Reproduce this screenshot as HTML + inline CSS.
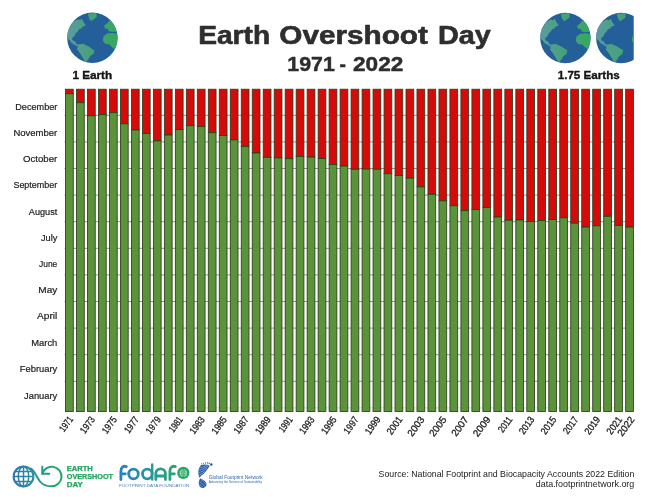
<!DOCTYPE html>
<html lang="en"><head><meta charset="utf-8"><title>Earth Overshoot Day 1971 - 2022</title>
<style>
html,body{margin:0;padding:0;background:#fff;}
body{width:650px;height:501px;overflow:hidden;font-family:"Liberation Sans",sans-serif;}
svg{display:block;font-family:"Liberation Sans",sans-serif;}
.m{font-size:9.6px;fill:#222;stroke:#222;stroke-width:0.2px;}
.y{font-size:9.9px;fill:#222;stroke:#222;stroke-width:0.3px;}
.t{font-weight:bold;fill:#2e2e2e;stroke:#2e2e2e;stroke-width:0.6px;stroke-linejoin:round;}
</style></head><body>
<svg width="650" height="501" viewBox="0 0 650 501">
<defs>
<linearGradient id="land" gradientUnits="userSpaceOnUse" x1="-25" y1="0" x2="25" y2="0"><stop offset="0" stop-color="#5b9ba0"/><stop offset="0.55" stop-color="#43a273"/><stop offset="1" stop-color="#36a85f"/></linearGradient>
<linearGradient id="eod" gradientUnits="userSpaceOnUse" x1="13" y1="0" x2="62" y2="0"><stop offset="0" stop-color="#2f74ad"/><stop offset="0.45" stop-color="#2a929a"/><stop offset="1" stop-color="#1fa85e"/></linearGradient>
<linearGradient id="fod" gradientUnits="userSpaceOnUse" x1="119" y1="0" x2="189" y2="0"><stop offset="0" stop-color="#2b7cc4"/><stop offset="0.5" stop-color="#2a9a98"/><stop offset="1" stop-color="#27a85c"/></linearGradient>
<clipPath id="gc"><circle cx="0" cy="0" r="25.2"/></clipPath>
<g id="globe">
<circle cx="0" cy="0" r="25.2" fill="#255f99"/>
<g clip-path="url(#gc)" fill="url(#land)">
<path d="M-4.5,-24 L4,-25 L4.5,-21 L1.5,-18.5 L-1.5,-16.8 L-3.3,-19.5 Z"/>
<path d="M-19,-16 L-15,-18.4 L-12,-17.8 L-10.8,-19.4 L-9,-16 L-6.6,-12.4 L-9.5,-11.4 L-11,-9.4 L-13.2,-8.8 L-14.6,-6.4 L-16.8,-4.6 L-17.6,-2 L-19.6,-0.6 L-20.4,1.6 L-19.2,3 L-17.4,3.4 L-16.4,5.6 L-14.4,7 L-15.4,8.4 L-18.4,6.6 L-21,5 L-23,2 L-26,0 L-26,-9 Z"/>
<path d="M-14.7,6.6 L-9.3,6 L-3.3,9 L2,12.6 L1,16.2 L-2,18 L-4.5,22.2 L-6.9,24.5 L-9.3,20.4 L-12.3,15.6 L-15.3,11.4 Z"/>
<path d="M11,-1.2 L14.6,-4.2 L20,-4.8 L26,-4 L26,11 L22.5,11.5 L20,9.6 L17,6.6 L12.8,6 L10.4,3 Z"/>
<path d="M11.6,-12 L14.6,-14.4 L17.6,-18 L22,-14 L24,-9 L26,-6 L20,-6 L16.4,-6.6 L15.2,-9 L12.8,-9 Z"/>
</g></g>
</defs>
<rect x="0" y="0" width="650" height="501" fill="#fff"/>

<g stroke="#666" stroke-width="0.7">
<line x1="64.5" y1="115.3" x2="634.1" y2="115.3"/>
<line x1="64.5" y1="141.9" x2="634.1" y2="141.9"/>
<line x1="64.5" y1="168.5" x2="634.1" y2="168.5"/>
<line x1="64.5" y1="195.1" x2="634.1" y2="195.1"/>
<line x1="64.5" y1="221.7" x2="634.1" y2="221.7"/>
<line x1="64.5" y1="248.3" x2="634.1" y2="248.3"/>
<line x1="64.5" y1="274.9" x2="634.1" y2="274.9"/>
<line x1="64.5" y1="301.5" x2="634.1" y2="301.5"/>
<line x1="64.5" y1="328.1" x2="634.1" y2="328.1"/>
<line x1="64.5" y1="354.7" x2="634.1" y2="354.7"/>
<line x1="64.5" y1="381.3" x2="634.1" y2="381.3"/>
<line x1="64.5" y1="407.9" x2="634.1" y2="407.9" stroke-opacity="0.4"/>
</g>
<g stroke="#2b3f1c" stroke-width="0.85">
<rect x="65.52" y="89.22" width="7.75" height="4.48" fill="#d60a08"/>
<rect x="65.52" y="93.70" width="7.75" height="317.88" fill="#5a933a"/>
<rect x="76.51" y="89.22" width="7.75" height="13.48" fill="#d60a08"/>
<rect x="76.51" y="102.70" width="7.75" height="308.88" fill="#5a933a"/>
<rect x="87.49" y="89.22" width="7.75" height="26.57" fill="#d60a08"/>
<rect x="87.49" y="115.80" width="7.75" height="295.77" fill="#5a933a"/>
<rect x="98.47" y="89.22" width="7.75" height="25.48" fill="#d60a08"/>
<rect x="98.47" y="114.70" width="7.75" height="296.88" fill="#5a933a"/>
<rect x="109.46" y="89.22" width="7.75" height="23.48" fill="#d60a08"/>
<rect x="109.46" y="112.70" width="7.75" height="298.88" fill="#5a933a"/>
<rect x="120.44" y="89.22" width="7.75" height="34.58" fill="#d60a08"/>
<rect x="120.44" y="123.80" width="7.75" height="287.77" fill="#5a933a"/>
<rect x="131.42" y="89.22" width="7.75" height="40.78" fill="#d60a08"/>
<rect x="131.42" y="130.00" width="7.75" height="281.57" fill="#5a933a"/>
<rect x="142.41" y="89.22" width="7.75" height="44.28" fill="#d60a08"/>
<rect x="142.41" y="133.50" width="7.75" height="278.07" fill="#5a933a"/>
<rect x="153.39" y="89.22" width="7.75" height="51.68" fill="#d60a08"/>
<rect x="153.39" y="140.90" width="7.75" height="270.68" fill="#5a933a"/>
<rect x="164.37" y="89.22" width="7.75" height="45.78" fill="#d60a08"/>
<rect x="164.37" y="135.00" width="7.75" height="276.57" fill="#5a933a"/>
<rect x="175.36" y="89.22" width="7.75" height="40.38" fill="#d60a08"/>
<rect x="175.36" y="129.60" width="7.75" height="281.97" fill="#5a933a"/>
<rect x="186.34" y="89.22" width="7.75" height="36.48" fill="#d60a08"/>
<rect x="186.34" y="125.70" width="7.75" height="285.88" fill="#5a933a"/>
<rect x="197.32" y="89.22" width="7.75" height="37.38" fill="#d60a08"/>
<rect x="197.32" y="126.60" width="7.75" height="284.97" fill="#5a933a"/>
<rect x="208.30" y="89.22" width="7.75" height="43.47" fill="#d60a08"/>
<rect x="208.30" y="132.70" width="7.75" height="278.88" fill="#5a933a"/>
<rect x="219.29" y="89.22" width="7.75" height="46.28" fill="#d60a08"/>
<rect x="219.29" y="135.50" width="7.75" height="276.07" fill="#5a933a"/>
<rect x="230.27" y="89.22" width="7.75" height="50.68" fill="#d60a08"/>
<rect x="230.27" y="139.90" width="7.75" height="271.68" fill="#5a933a"/>
<rect x="241.25" y="89.22" width="7.75" height="57.18" fill="#d60a08"/>
<rect x="241.25" y="146.40" width="7.75" height="265.18" fill="#5a933a"/>
<rect x="252.24" y="89.22" width="7.75" height="63.78" fill="#d60a08"/>
<rect x="252.24" y="153.00" width="7.75" height="258.57" fill="#5a933a"/>
<rect x="263.22" y="89.22" width="7.75" height="68.08" fill="#d60a08"/>
<rect x="263.22" y="157.30" width="7.75" height="254.27" fill="#5a933a"/>
<rect x="274.20" y="89.22" width="7.75" height="68.68" fill="#d60a08"/>
<rect x="274.20" y="157.90" width="7.75" height="253.67" fill="#5a933a"/>
<rect x="285.19" y="89.22" width="7.75" height="69.47" fill="#d60a08"/>
<rect x="285.19" y="158.70" width="7.75" height="252.88" fill="#5a933a"/>
<rect x="296.17" y="89.22" width="7.75" height="67.18" fill="#d60a08"/>
<rect x="296.17" y="156.40" width="7.75" height="255.17" fill="#5a933a"/>
<rect x="307.15" y="89.22" width="7.75" height="67.88" fill="#d60a08"/>
<rect x="307.15" y="157.10" width="7.75" height="254.47" fill="#5a933a"/>
<rect x="318.13" y="89.22" width="7.75" height="69.38" fill="#d60a08"/>
<rect x="318.13" y="158.60" width="7.75" height="252.97" fill="#5a933a"/>
<rect x="329.12" y="89.22" width="7.75" height="75.28" fill="#d60a08"/>
<rect x="329.12" y="164.50" width="7.75" height="247.07" fill="#5a933a"/>
<rect x="340.10" y="89.22" width="7.75" height="76.78" fill="#d60a08"/>
<rect x="340.10" y="166.00" width="7.75" height="245.57" fill="#5a933a"/>
<rect x="351.08" y="89.22" width="7.75" height="80.08" fill="#d60a08"/>
<rect x="351.08" y="169.30" width="7.75" height="242.27" fill="#5a933a"/>
<rect x="362.07" y="89.22" width="7.75" height="79.88" fill="#d60a08"/>
<rect x="362.07" y="169.10" width="7.75" height="242.47" fill="#5a933a"/>
<rect x="373.05" y="89.22" width="7.75" height="80.08" fill="#d60a08"/>
<rect x="373.05" y="169.30" width="7.75" height="242.27" fill="#5a933a"/>
<rect x="384.03" y="89.22" width="7.75" height="84.47" fill="#d60a08"/>
<rect x="384.03" y="173.70" width="7.75" height="237.88" fill="#5a933a"/>
<rect x="395.02" y="89.22" width="7.75" height="86.28" fill="#d60a08"/>
<rect x="395.02" y="175.50" width="7.75" height="236.07" fill="#5a933a"/>
<rect x="406.00" y="89.22" width="7.75" height="88.97" fill="#d60a08"/>
<rect x="406.00" y="178.20" width="7.75" height="233.38" fill="#5a933a"/>
<rect x="416.98" y="89.22" width="7.75" height="97.68" fill="#d60a08"/>
<rect x="416.98" y="186.90" width="7.75" height="224.67" fill="#5a933a"/>
<rect x="427.96" y="89.22" width="7.75" height="105.08" fill="#d60a08"/>
<rect x="427.96" y="194.30" width="7.75" height="217.27" fill="#5a933a"/>
<rect x="438.95" y="89.22" width="7.75" height="111.58" fill="#d60a08"/>
<rect x="438.95" y="200.80" width="7.75" height="210.77" fill="#5a933a"/>
<rect x="449.93" y="89.22" width="7.75" height="116.47" fill="#d60a08"/>
<rect x="449.93" y="205.70" width="7.75" height="205.88" fill="#5a933a"/>
<rect x="460.91" y="89.22" width="7.75" height="121.47" fill="#d60a08"/>
<rect x="460.91" y="210.70" width="7.75" height="200.88" fill="#5a933a"/>
<rect x="471.90" y="89.22" width="7.75" height="120.38" fill="#d60a08"/>
<rect x="471.90" y="209.60" width="7.75" height="201.97" fill="#5a933a"/>
<rect x="482.88" y="89.22" width="7.75" height="118.38" fill="#d60a08"/>
<rect x="482.88" y="207.60" width="7.75" height="203.97" fill="#5a933a"/>
<rect x="493.86" y="89.22" width="7.75" height="127.77" fill="#d60a08"/>
<rect x="493.86" y="217.00" width="7.75" height="194.57" fill="#5a933a"/>
<rect x="504.85" y="89.22" width="7.75" height="130.97" fill="#d60a08"/>
<rect x="504.85" y="220.20" width="7.75" height="191.38" fill="#5a933a"/>
<rect x="515.83" y="89.22" width="7.75" height="130.77" fill="#d60a08"/>
<rect x="515.83" y="220.00" width="7.75" height="191.57" fill="#5a933a"/>
<rect x="526.81" y="89.22" width="7.75" height="132.27" fill="#d60a08"/>
<rect x="526.81" y="221.50" width="7.75" height="190.07" fill="#5a933a"/>
<rect x="537.79" y="89.22" width="7.75" height="131.38" fill="#d60a08"/>
<rect x="537.79" y="220.60" width="7.75" height="190.97" fill="#5a933a"/>
<rect x="548.78" y="89.22" width="7.75" height="130.27" fill="#d60a08"/>
<rect x="548.78" y="219.50" width="7.75" height="192.07" fill="#5a933a"/>
<rect x="559.76" y="89.22" width="7.75" height="128.57" fill="#d60a08"/>
<rect x="559.76" y="217.80" width="7.75" height="193.77" fill="#5a933a"/>
<rect x="570.74" y="89.22" width="7.75" height="133.97" fill="#d60a08"/>
<rect x="570.74" y="223.20" width="7.75" height="188.38" fill="#5a933a"/>
<rect x="581.73" y="89.22" width="7.75" height="137.88" fill="#d60a08"/>
<rect x="581.73" y="227.10" width="7.75" height="184.47" fill="#5a933a"/>
<rect x="592.71" y="89.22" width="7.75" height="136.57" fill="#d60a08"/>
<rect x="592.71" y="225.80" width="7.75" height="185.77" fill="#5a933a"/>
<rect x="603.69" y="89.22" width="7.75" height="127.08" fill="#d60a08"/>
<rect x="603.69" y="216.30" width="7.75" height="195.27" fill="#5a933a"/>
<rect x="614.67" y="89.22" width="7.75" height="136.18" fill="#d60a08"/>
<rect x="614.67" y="225.40" width="7.75" height="186.17" fill="#5a933a"/>
<rect x="625.66" y="89.22" width="7.75" height="137.88" fill="#d60a08"/>
<rect x="625.66" y="227.10" width="7.75" height="184.47" fill="#5a933a"/>
</g>
<text class="m" x="15.3" y="109.8" textLength="42.0" lengthAdjust="spacingAndGlyphs">December</text>
<text class="m" x="13.4" y="136.0" textLength="43.9" lengthAdjust="spacingAndGlyphs">November</text>
<text class="m" x="23.0" y="162.2" textLength="34.3" lengthAdjust="spacingAndGlyphs">October</text>
<text class="m" x="13.4" y="188.4" textLength="43.9" lengthAdjust="spacingAndGlyphs">September</text>
<text class="m" x="28.8" y="214.6" textLength="28.5" lengthAdjust="spacingAndGlyphs">August</text>
<text class="m" x="40.9" y="240.8" textLength="16.4" lengthAdjust="spacingAndGlyphs">July</text>
<text class="m" x="39.0" y="266.9" textLength="18.3" lengthAdjust="spacingAndGlyphs">June</text>
<text class="m" x="38.3" y="293.1" textLength="19.0" lengthAdjust="spacingAndGlyphs">May</text>
<text class="m" x="37.0" y="319.3" textLength="20.3" lengthAdjust="spacingAndGlyphs">April</text>
<text class="m" x="31.3" y="345.8" textLength="26.0" lengthAdjust="spacingAndGlyphs">March</text>
<text class="m" x="19.8" y="371.7" textLength="37.5" lengthAdjust="spacingAndGlyphs">February</text>
<text class="m" x="24.0" y="398.6" textLength="33.3" lengthAdjust="spacingAndGlyphs">January</text>
<text class="y" transform="translate(70.6,417.5) rotate(-54)" text-anchor="end" dy="0.36em" textLength="16.1" lengthAdjust="spacingAndGlyphs">1971</text>
<text class="y" transform="translate(92.6,417.5) rotate(-54)" text-anchor="end" dy="0.36em" textLength="18.1" lengthAdjust="spacingAndGlyphs">1973</text>
<text class="y" transform="translate(114.5,417.5) rotate(-54)" text-anchor="end" dy="0.36em" textLength="18.3" lengthAdjust="spacingAndGlyphs">1975</text>
<text class="y" transform="translate(136.5,417.5) rotate(-54)" text-anchor="end" dy="0.36em" textLength="17.9" lengthAdjust="spacingAndGlyphs">1977</text>
<text class="y" transform="translate(158.5,417.5) rotate(-54)" text-anchor="end" dy="0.36em" textLength="18.6" lengthAdjust="spacingAndGlyphs">1979</text>
<text class="y" transform="translate(180.4,417.5) rotate(-54)" text-anchor="end" dy="0.36em" textLength="16.6" lengthAdjust="spacingAndGlyphs">1981</text>
<text class="y" transform="translate(202.4,417.5) rotate(-54)" text-anchor="end" dy="0.36em" textLength="18.7" lengthAdjust="spacingAndGlyphs">1983</text>
<text class="y" transform="translate(224.4,417.5) rotate(-54)" text-anchor="end" dy="0.36em" textLength="18.9" lengthAdjust="spacingAndGlyphs">1985</text>
<text class="y" transform="translate(246.3,417.5) rotate(-54)" text-anchor="end" dy="0.36em" textLength="18.4" lengthAdjust="spacingAndGlyphs">1987</text>
<text class="y" transform="translate(268.3,417.5) rotate(-54)" text-anchor="end" dy="0.36em" textLength="19.1" lengthAdjust="spacingAndGlyphs">1989</text>
<text class="y" transform="translate(290.3,417.5) rotate(-54)" text-anchor="end" dy="0.36em" textLength="16.7" lengthAdjust="spacingAndGlyphs">1991</text>
<text class="y" transform="translate(312.2,417.5) rotate(-54)" text-anchor="end" dy="0.36em" textLength="18.8" lengthAdjust="spacingAndGlyphs">1993</text>
<text class="y" transform="translate(334.2,417.5) rotate(-54)" text-anchor="end" dy="0.36em" textLength="19.0" lengthAdjust="spacingAndGlyphs">1995</text>
<text class="y" transform="translate(356.2,417.5) rotate(-54)" text-anchor="end" dy="0.36em" textLength="18.6" lengthAdjust="spacingAndGlyphs">1997</text>
<text class="y" transform="translate(378.1,417.5) rotate(-54)" text-anchor="end" dy="0.36em" textLength="19.2" lengthAdjust="spacingAndGlyphs">1999</text>
<text class="y" transform="translate(400.1,417.5) rotate(-54)" text-anchor="end" dy="0.36em" textLength="19.7" lengthAdjust="spacingAndGlyphs">2001</text>
<text class="y" transform="translate(422.1,417.5) rotate(-54)" text-anchor="end" dy="0.36em" textLength="21.7" lengthAdjust="spacingAndGlyphs">2003</text>
<text class="y" transform="translate(444.0,417.5) rotate(-54)" text-anchor="end" dy="0.36em" textLength="21.9" lengthAdjust="spacingAndGlyphs">2005</text>
<text class="y" transform="translate(466.0,417.5) rotate(-54)" text-anchor="end" dy="0.36em" textLength="21.5" lengthAdjust="spacingAndGlyphs">2007</text>
<text class="y" transform="translate(488.0,417.5) rotate(-54)" text-anchor="end" dy="0.36em" textLength="22.2" lengthAdjust="spacingAndGlyphs">2009</text>
<text class="y" transform="translate(509.9,417.5) rotate(-54)" text-anchor="end" dy="0.36em" textLength="17.0" lengthAdjust="spacingAndGlyphs">2011</text>
<text class="y" transform="translate(531.9,417.5) rotate(-54)" text-anchor="end" dy="0.36em" textLength="19.0" lengthAdjust="spacingAndGlyphs">2013</text>
<text class="y" transform="translate(553.9,417.5) rotate(-54)" text-anchor="end" dy="0.36em" textLength="19.2" lengthAdjust="spacingAndGlyphs">2015</text>
<text class="y" transform="translate(575.8,417.5) rotate(-54)" text-anchor="end" dy="0.36em" textLength="18.8" lengthAdjust="spacingAndGlyphs">2017</text>
<text class="y" transform="translate(597.8,417.5) rotate(-54)" text-anchor="end" dy="0.36em" textLength="19.4" lengthAdjust="spacingAndGlyphs">2019</text>
<text class="y" transform="translate(619.8,417.5) rotate(-54)" text-anchor="end" dy="0.36em" textLength="19.3" lengthAdjust="spacingAndGlyphs">2021</text>
<text class="y" transform="translate(632.0,417.5) rotate(-54)" text-anchor="end" dy="0.36em" textLength="21.6" lengthAdjust="spacingAndGlyphs">2022</text>
<text class="t" x="198.2" y="44" font-size="25" style="stroke-width:0.6px" textLength="71.9" lengthAdjust="spacingAndGlyphs">Earth</text>
<text class="t" x="279.3" y="44" font-size="25" style="stroke-width:0.6px" textLength="148.6" lengthAdjust="spacingAndGlyphs">Overshoot</text>
<text class="t" x="438.1" y="44" font-size="25" style="stroke-width:0.6px" textLength="52.8" lengthAdjust="spacingAndGlyphs">Day</text>
<text class="t" x="287.3" y="71.1" font-size="19.8" style="stroke-width:0.45px" textLength="47.5" lengthAdjust="spacingAndGlyphs">1971</text>
<text class="t" x="339.5" y="71.1" font-size="19.8" style="stroke-width:0.45px" textLength="6.4" lengthAdjust="spacingAndGlyphs">-</text>
<text class="t" x="353.0" y="71.1" font-size="19.8" style="stroke-width:0.45px" textLength="50.3" lengthAdjust="spacingAndGlyphs">2022</text>
<text class="t" x="72.4" y="78.7" font-size="11" style="fill:#151515;stroke:#151515;stroke-width:0.35px" textLength="39.8" lengthAdjust="spacingAndGlyphs">1 Earth</text>
<text class="t" x="557.7" y="79" font-size="11" style="fill:#151515;stroke:#151515;stroke-width:0.35px" textLength="62" lengthAdjust="spacingAndGlyphs">1.75 Earths</text>
<use href="#globe" x="92.4" y="37.8"/>
<use href="#globe" x="565.4" y="38"/>
<clipPath id="q"><rect x="590" y="0" width="43.7" height="80"/></clipPath>
<g clip-path="url(#q)"><use href="#globe" x="621.3" y="38"/></g>
<text x="378.6" y="476.6" font-size="9.6" fill="#222" textLength="255.7" lengthAdjust="spacingAndGlyphs">Source: National Footprint and Biocapacity Accounts 2022 Edition</text>
<text x="535.8" y="486.9" font-size="9.6" fill="#222" textLength="98.5" lengthAdjust="spacingAndGlyphs">data.footprintnetwork.org</text>
<g fill="none" stroke="url(#eod)" stroke-width="2" stroke-linecap="round" stroke-linejoin="round">
<circle cx="23.5" cy="476.5" r="9.9"/>
<ellipse cx="23.5" cy="476.5" rx="5.2" ry="9.9" stroke-width="1.5"/>
<line x1="23.5" y1="466.6" x2="23.5" y2="486.4" stroke-width="1.5"/>
<line x1="13.6" y1="476.5" x2="33.4" y2="476.5" stroke-width="1.5"/>
<line x1="15.2" y1="471.4" x2="31.8" y2="471.4" stroke-width="1.5"/>
<line x1="15.2" y1="481.6" x2="31.8" y2="481.6" stroke-width="1.5"/>
<path d="M31,468.6 C35,471.5 36.5,477 40,481.5 C43,485.2 47,486.3 51.6,486.3 A9.8,9.8 0 1 0 42.3,473.7"/>
<path d="M42.3,466.8 L42.3,473.7 L49.4,473.7"/>
</g>
<g font-weight="bold" font-size="6.3" fill="#22a55c" stroke="#22a55c" stroke-width="0.25">
<text x="66.8" y="470.6" textLength="26" lengthAdjust="spacingAndGlyphs">EARTH</text>
<text x="66.8" y="479" textLength="46.2" lengthAdjust="spacingAndGlyphs">OVERSHOOT</text>
<text x="66.8" y="487.2" textLength="16" lengthAdjust="spacingAndGlyphs">DAY</text>
</g>
<g fill="none" stroke="url(#fod)" stroke-width="2.8" stroke-linecap="round" stroke-linejoin="round" transform="translate(0,-0.4)">
<path d="M120.9,480 L120.9,471.6 C120.9,467 124,466 126.3,467 M120.9,474.2 L125.4,474.2"/>
<circle cx="133.5" cy="474.4" r="4.8"/>
<circle cx="147.3" cy="474.4" r="4.8"/>
<path d="M152.2,464.8 L152.2,480" stroke-width="2.4"/>
<path d="M155.8,480 L155.8,474 C155.8,467.6 165.4,467.6 165.4,474 L165.4,480 M155.8,476.4 L165.4,476.4"/>
<path d="M169.9,480 L169.9,471.6 C169.9,467 173,466 175.3,467 M169.9,474.2 L174.4,474.2"/>
</g>
<circle cx="183.3" cy="472.9" r="6.1" fill="#22a660"/>
<circle cx="183.3" cy="472.9" r="3.7" fill="#fff" fill-opacity="0.85"/>
<g fill="none" stroke="#22a660" stroke-width="0.7">
<ellipse cx="183.3" cy="472.9" rx="1.7" ry="3.7"/>
<line x1="183.3" y1="469.2" x2="183.3" y2="476.6"/>
<line x1="179.6" y1="472.9" x2="187" y2="472.9"/>
<line x1="180" y1="471" x2="186.6" y2="471"/>
<line x1="180" y1="474.8" x2="186.6" y2="474.8"/>
</g>
<text x="118.9" y="487.4" font-size="4.4" fill="#4a7fb5" textLength="70.4" lengthAdjust="spacingAndGlyphs">FOOTPRINT DATA FOUNDATION</text>
<g fill="#2559a8">
<path d="M200.8,465.2 C199,467.5 198,471 198.4,473.6 C198.6,475.5 199,477 199.6,477.8 C200,476.5 201,475.8 202.2,475 C204,473.8 205.5,472 206.5,470.6 C208,468.5 209.3,466.8 209.6,465.6 C207,464.2 203.5,464 200.8,465.2 Z"/>
<path d="M200.1,478.4 C199,480 198.4,483 199,485 C199.8,487.5 202,488.6 204,487.8 C206.5,486.8 207,484.5 206,482.5 C204.8,480.2 202,479 200.1,478.4 Z"/>
<circle cx="201.6" cy="463.7" r="0.5"/><circle cx="203.4" cy="463.2" r="0.55"/><circle cx="205.4" cy="462.9" r="0.6"/><circle cx="207.4" cy="462.9" r="0.65"/><circle cx="209.2" cy="463.2" r="0.7"/>
<circle cx="211.3" cy="464.5" r="1.25"/>
</g>
<g stroke="#cfe3f7" stroke-width="0.55" fill="none" opacity="0.9">
<path d="M199,470 C202,469.5 205.5,468 208.5,465.6"/>
<path d="M198.6,472.6 C201.5,472 204.5,470.5 207,468.2"/>
<path d="M199,475.2 C201,474.5 203,473.3 204.8,471.6"/>
<path d="M199.8,467.4 C202.5,467.2 205,466.3 207,465"/>
<path d="M199.6,481.5 C201.5,482.5 203.5,484.5 204.6,486.6"/>
<path d="M199.2,484 C200.5,484.8 201.8,486 202.6,487.4"/>
<path d="M201,479.6 C203,480.6 205,482.5 206,484.6"/>
</g>
<text x="208.7" y="478.5" font-size="5.6" fill="#2c66ad" textLength="54" lengthAdjust="spacingAndGlyphs">Global Footprint Network</text>
<text x="208.7" y="482.8" font-size="3.3" fill="#2c66ad" textLength="53.3" lengthAdjust="spacingAndGlyphs">Advancing the Science of Sustainability</text>
</svg></body></html>
